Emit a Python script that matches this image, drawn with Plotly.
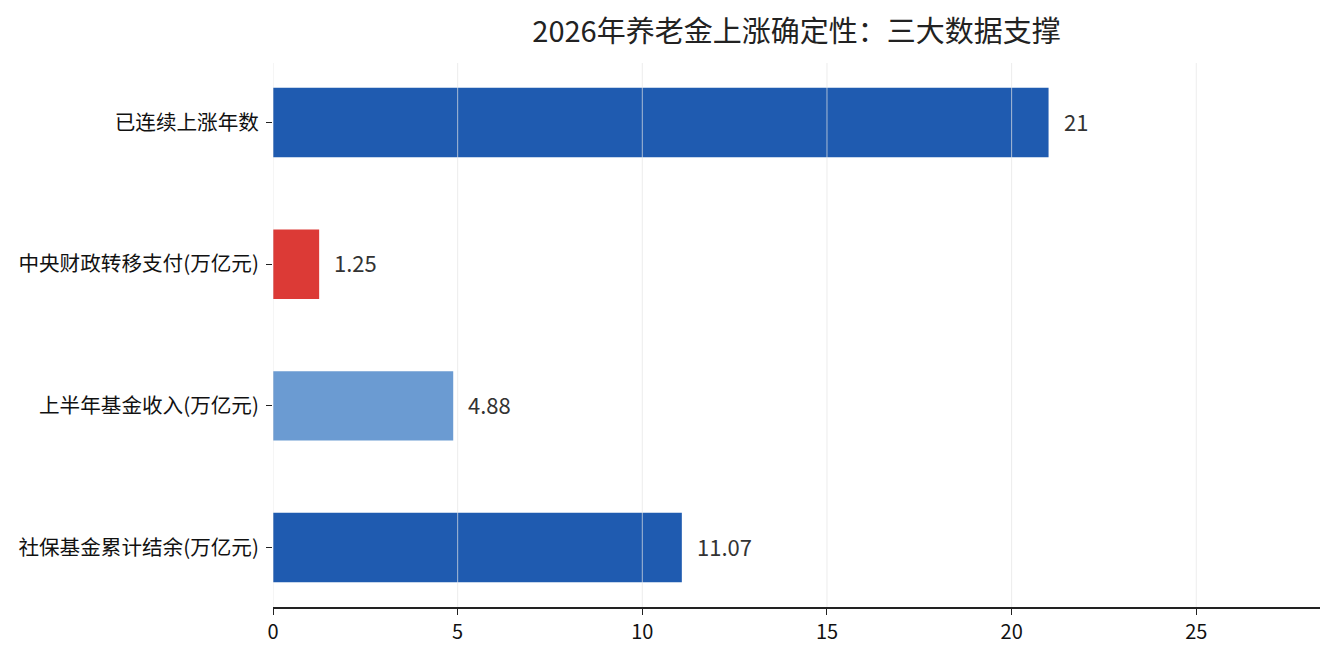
import plotly.graph_objects as go

# 数据
categories = ["已连续上涨年数", "中央财政转移支付(万亿元)", "上半年基金收入(万亿元)", "社保基金累计结余(万亿元)"]
values = [21, 1.25, 4.88, 11.07]
value_labels = ["21", "1.25", "4.88", "11.07"]
bar_colors = ["#1f5bb0", "#dc3a36", "#6b9bd2", "#1f5bb0"]
x_ticks = [0, 5, 10, 15, 20, 25]

font_family = "Noto Sans CJK SC, Noto Sans, sans-serif"

fig = go.Figure()
fig.add_trace(go.Bar(
    y=categories, x=values, orientation="h",
    marker=dict(color=bar_colors, line=dict(width=0)),
    width=0.49, hoverinfo="x+y",
))

# 数值标签
for cat, v, lab in zip(categories, values, value_labels):
    fig.add_annotation(x=v, y=cat, text=lab, showarrow=False,
                       xanchor="left", xshift=13, yshift=2,
                       font=dict(size=22, color="#333333", family=font_family))

# 网格线画在柱子上面
for t in x_ticks:
    fig.add_shape(type="line", xref="x", yref="paper", x0=t, x1=t, y0=0, y1=1,
                  line=dict(color="rgba(228,228,228,0.7)", width=1), layer="above")

fig.update_layout(
    width=1327, height=652,
    margin=dict(l=265, r=15, t=55, b=53),
    paper_bgcolor="white", plot_bgcolor="white",
    showlegend=False,
    title=dict(text="2026年养老金上涨确定性：三大数据支撑", x=0.5, xref="paper", xanchor="center",
               y=0.964, yanchor="middle",
               font=dict(size=29, color="#222222", family=font_family)),
    font=dict(family=font_family, color="#222222"),
)
fig.update_xaxes(range=[0, 28.35], tickvals=x_ticks,
                 showgrid=False, automargin=False,
                 showline=True, linecolor="#222222", linewidth=1.5,
                 ticks="outside", ticklen=6, tickcolor="#222222",
                 tickfont=dict(size=20, color="#111111"),
                 zeroline=False)
fig.update_yaxes(categoryorder="array", categoryarray=categories[::-1],
                 range=[-0.42, 3.42], showgrid=False, showline=False, automargin=False,
                 ticks="outside", ticklen=6, tickcolor="#222222", ticklabelstandoff=3,
                 tickfont=dict(size=20.6, color="#111111"), zeroline=False)

fig.write_html("out.html")
